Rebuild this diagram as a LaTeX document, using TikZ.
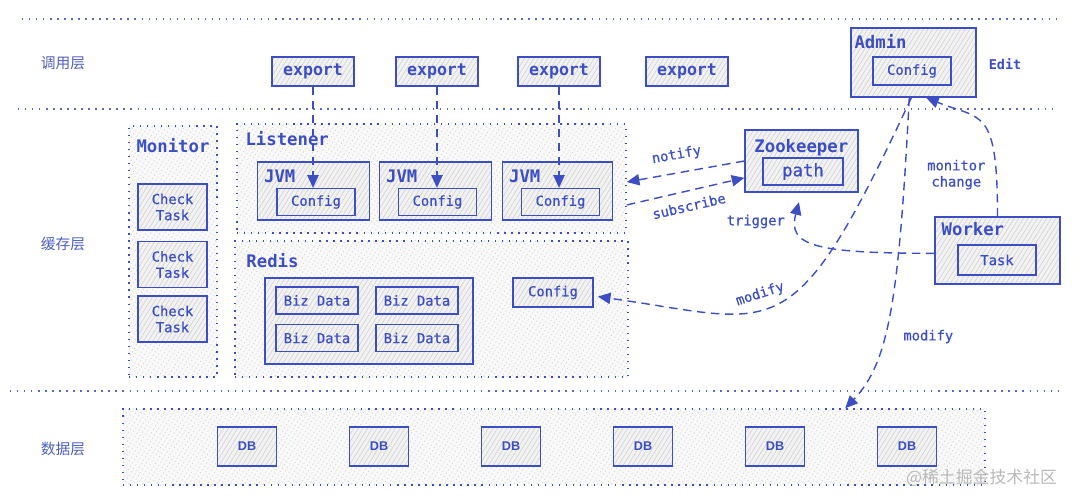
\documentclass[tikz,border=0pt]{standalone}
\usepackage{fontspec}
\setmonofont{DejaVu Sans Mono}
\setsansfont{Liberation Sans}
\newfontfamily\monomid[FakeBold=0.6]{DejaVu Sans Mono}
\newfontfamily\cjk{Noto Sans CJK SC}
\usetikzlibrary{positioning, arrows.meta, patterns.meta}
\definecolor{ink}{HTML}{3D4EC4}
\definecolor{layerink}{HTML}{5060C0}

\begin{document}
\begin{tikzpicture}[x=0.025cm, y=0.025cm, font=\ttfamily, node distance=4pt,
    hatchfill/.style={preaction={fill=gray!5}, pattern={Lines[angle=58, distance=2.8pt, line width=0.35pt]}, pattern color=gray!40},
    sketchbox/.style={draw=ink, line width=0.9pt, hatchfill, preaction={fill=gray!10}, text=ink, inner sep=0pt, font=\monomid\fontsize{9.8}{11.5}\selectfont},
    groupbox/.style={draw=ink, line width=1pt, dash pattern=on 1pt off 4pt, hatchfill, inner sep=0pt},
    sepline/.style={draw=ink!85, line width=1pt, dash pattern=on 1pt off 4pt},
    titletext/.style={text=ink, inner sep=0pt, font=\ttfamily\bfseries\fontsize{12.3}{14}\selectfont},
    edgetext/.style={text=ink, font=\monomid\fontsize{9.8}{11.5}\selectfont},
    layertext/.style={text=layerink, font=\cjk\fontsize{10.5}{12}\selectfont},
    flow/.style={draw=ink, line width=1pt, dash pattern=on 6pt off 4pt, -{Triangle[length=9pt, width=8pt]}}]
  \useasboundingbox (0,0) rectangle (1076,-504);

  % layers
  \draw[sepline] (22,-19) -- (1060,-19);
  \draw[sepline] (18,-109) -- (1058,-109);
  \draw[sepline] (10,-391) -- (1058,-391);
  \node[layertext] (callayer) at (63,-63) {调用层};
  \node[layertext] (cachelayer) at (63,-244) {缓存层};
  \node[layertext] (datalayer) at (63,-449) {数据层};

  % groups
  \node[groupbox, minimum width=2.2cm, minimum height=6.275cm] (monitor) at (173,-251.5) {};
  \node[groupbox, minimum width=9.725cm, minimum height=2.725cm] (listener) at (431.5,-178.5) {};
  \node[groupbox, minimum width=9.825cm, minimum height=3.4cm] (redis) at (431.5,-309) {};
  \node[groupbox, minimum width=21.55cm, minimum height=1.9cm] (dbl) at (554,-447) {};
  \node[titletext, below=9pt of monitor.north] (monitortitle) {Monitor};
  \node[titletext, below right=5.5pt and 6.4pt of listener.north west] (listenertitle) {Listener};
  \node[titletext, below right=9pt and 8.5pt of redis.north west] (redistitle) {Redis};

  % export
  \node[sketchbox, minimum width=2.05cm, minimum height=0.725cm, font=\ttfamily\bfseries\fontsize{11.8}{14}\selectfont] (exp1) at (313,-71.5) {export};
  \node[sketchbox, minimum width=2.05cm, minimum height=0.725cm, font=\ttfamily\bfseries\fontsize{11.8}{14}\selectfont] (exp2) at (437,-71.5) {export};
  \node[sketchbox, minimum width=2.05cm, minimum height=0.725cm, font=\ttfamily\bfseries\fontsize{11.8}{14}\selectfont] (exp3) at (559,-71.5) {export};
  \node[sketchbox, minimum width=2.05cm, minimum height=0.725cm, font=\ttfamily\bfseries\fontsize{11.8}{14}\selectfont] (exp4) at (687,-71.5) {export};

  % admin
  \node[sketchbox, minimum width=3.125cm, minimum height=1.725cm] (admin) at (913.5,-62.5) {};
  \node[titletext, below right=5.1pt and 2.8pt of admin.north west] (admintitle) {Admin};
  \node[sketchbox, minimum width=1.95cm, minimum height=0.7cm] (admincfg) at (912,-71) {Config};
  \node[text=ink, font=\ttfamily\bfseries\fontsize{9.6}{11}\selectfont] (edit) at (1005,-64) {Edit};

  % monitor tasks
  \node[sketchbox, align=center, minimum width=1.725cm, minimum height=1.15cm] (check1) at (172.5,-207) {Check\\Task};
  \node[sketchbox, align=center, minimum width=1.725cm, minimum height=1.15cm] (check2) at (172.5,-264.5) {Check\\Task};
  \node[sketchbox, align=center, minimum width=1.725cm, minimum height=1.15cm] (check3) at (172.5,-319) {Check\\Task};

  % jvm
  \node[sketchbox, minimum width=2.8cm, minimum height=1.45cm] (jvm1) at (313.5,-191) {};
  \node[sketchbox, minimum width=2.8cm, minimum height=1.45cm] (jvm2) at (435.5,-191) {};
  \node[sketchbox, minimum width=2.75cm, minimum height=1.45cm] (jvm3) at (557.5,-191) {};
  \node[titletext, below right=6.2pt and 5pt of jvm1.north west] (jvm1title) {JVM};
  \node[titletext, below right=6.2pt and 5pt of jvm2.north west] (jvm2title) {JVM};
  \node[titletext, below right=6.2pt and 5pt of jvm3.north west] (jvm3title) {JVM};
  \node[sketchbox, minimum width=1.95cm, minimum height=0.675cm] (cfg1) at (316,-202) {Config};
  \node[sketchbox, minimum width=1.95cm, minimum height=0.675cm] (cfg2) at (437.5,-202) {Config};
  \node[sketchbox, minimum width=1.95cm, minimum height=0.675cm] (cfg3) at (560.5,-202) {Config};

  % zookeeper
  \node[sketchbox, minimum width=2.825cm, minimum height=1.55cm] (zk) at (801.5,-161) {};
  \node[titletext, below right=6.9pt and 7pt of zk.north west] (zktitle) {Zookeeper};
  \node[sketchbox, minimum width=2cm, minimum height=0.675cm, font=\monomid\fontsize{12.3}{14}\selectfont] (path) at (803,-171.5) {path};

  % worker
  \node[sketchbox, minimum width=3.125cm, minimum height=1.675cm] (worker) at (997.5,-250.5) {};
  \node[titletext, below right=4pt and 5pt of worker.north west] (workertitle) {Worker};
  \node[sketchbox, minimum width=1.95cm, minimum height=0.75cm] (task) at (997,-260) {Task};

  % redis
  \node[sketchbox, minimum width=5.2cm, minimum height=2.15cm] (bizgroup) at (369,-321) {};
  \node[sketchbox, minimum width=2.05cm, minimum height=0.675cm] (biz1) at (317,-300.5) {Biz Data};
  \node[sketchbox, minimum width=2.05cm, minimum height=0.675cm] (biz2) at (417,-300.5) {Biz Data};
  \node[sketchbox, minimum width=2.05cm, minimum height=0.675cm] (biz3) at (317,-338) {Biz Data};
  \node[sketchbox, minimum width=2.05cm, minimum height=0.675cm] (biz4) at (417,-338) {Biz Data};
  \node[sketchbox, minimum width=2cm, minimum height=0.725cm] (rcfg) at (553,-292.5) {Config};

  % db
  \foreach \i in {0,...,5}
    \node[sketchbox, minimum width=1.475cm, minimum height=0.975cm, font=\sffamily\bfseries\fontsize{9}{10}\selectfont] (db\i) at (247+132*\i,-446.5) {DB};
  \node[text=gray!55, font=\cjk\fontsize{12}{14}\selectfont, anchor=east] (mark) at (1062,-478) {@稀土掘金技术社区};

  % arrows
  \draw[flow] (exp1.south) -- (exp1.south |- cfg1.north);
  \draw[flow] (exp2.south) -- (exp2.south |- cfg2.north);
  \draw[flow] (exp3.south) -- (exp3.south |- cfg3.north);
  \draw[flow] (zk.west) -- node[edgetext, pos=0.55, sloped, above=4pt] {notify} ([yshift=-2.5pt]listener.east);
  \draw[flow] ([yshift=-18.8pt]listener.east) -- node[edgetext, pos=0.5, sloped, below=3pt] {subscribe} ([yshift=-12pt]zk.west);
  \draw[flow, shorten >=7pt] ([yshift=-2pt]worker.west) to[out=180, in=-105, out distance=3cm, in distance=1.375cm] node[edgetext, pos=0.78, left=6pt] {trigger} (zk.south);
  \draw[flow] (worker.north) to[out=90, in=-22, out distance=2.75cm, in distance=1.5cm] node[edgetext, pos=0.15, left=4pt, align=center] {monitor\\change} ([xshift=8.9pt]admin.south);
  \draw[flow, shorten >=3pt] ([xshift=-1.5pt]admin.south) to[out=-115, in=-8, out distance=7.1cm, in distance=4.7cm] node[edgetext, pos=0.55, sloped, above=2pt] {modify} ([yshift=-2.5pt]rcfg.east);
  \draw[flow] ([xshift=-3pt]admin.south) to[out=-93, in=46, out distance=5cm, in distance=1.6cm] node[edgetext, pos=0.6, right=10pt] {modify} ([xshift=-100pt]dbl.north east);
\end{tikzpicture}
\end{document}
